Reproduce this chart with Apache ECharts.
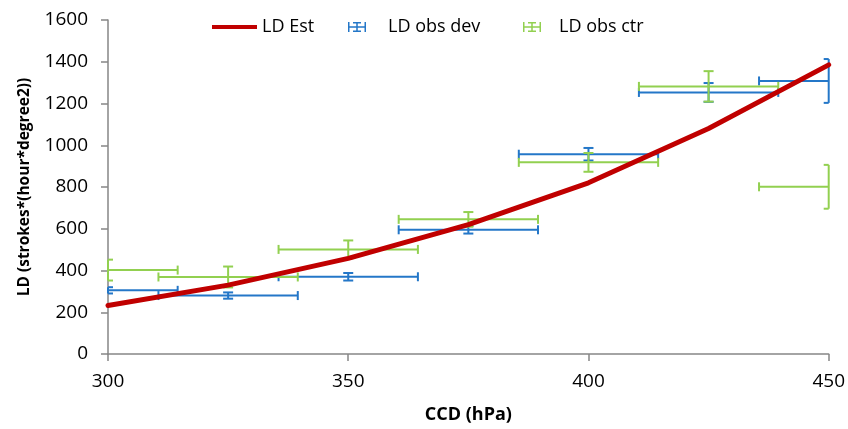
<!DOCTYPE html>
<html>
<head>
<meta charset="utf-8">
<script src="https://cdn.jsdelivr.net/npm/echarts@6/dist/echarts.min.js"></script>
<style>
html,body{margin:0;padding:0;background:#fff;}
#chart{width:848px;height:429px;}
</style>
</head>
<body>
<div id="chart"></div>
<script>
// ---- data ----
const ccd = [300, 325, 350, 375, 400, 425, 450];
const ldEst = [232, 330, 458, 620, 820, 1080, 1385];
const devY = [305, 280, 370, 595, 957, 1253, 1308];
const devYErr = [15, 15, 18, 18, 30, 45, 105];
const devXErr = [14.5, 14.5, 14.5, 14.5, 14.5, 14.5, 14.5];
const ctrY = [402, 369, 501, 645, 918, 1282, 801];
const ctrYErr = [50, 50, 43, 35, 45, 73, 105];
const ctrXErr = [14.5, 14.5, 14.5, 14.5, 14.5, 14.5, 14.5];
const xTicks = [300, 350, 400, 450];
const yTicks = [0, 200, 400, 600, 800, 1000, 1200, 1400, 1600];

const RED = '#c00000', BLUE = '#2477c8', GREEN = '#92d050';
const FONT = '"Open Sans", "Liberation Sans", sans-serif';
const errIcon = 'path://M0,0h1.5v10h-1.5z M16.5,0h1.5v10h-1.5z M0,4.25h18v1.5h-18z M8.25,0h1.5v10h-1.5z M5,0h8v1.5h-8z M5,8.5h8v1.5h-8z';

function errData(ys, ex, ey) {
  return ccd.map((x, i) => [x, ys[i], ex[i], ey[i]]);
}

function renderErr(color) {
  return function (params, api) {
    const x = api.value(0), y = api.value(1), ex = api.value(2), ey = api.value(3);
    const cs = params.coordSys;
    const left = cs.x, right = cs.x + cs.width;
    const c = api.coord([x, y]);
    let xl = api.coord([x - ex, y])[0], xr = api.coord([x + ex, y])[0];
    const yt = api.coord([x, y + ey])[1], yb = api.coord([x, y - ey])[1];
    const capL = xl >= left - 0.5, capR = xr <= right + 0.5;
    xl = Math.max(xl, left); xr = Math.min(xr, right);
    const h = 4.5, w = 5;
    const style = { stroke: color, lineWidth: 2, fill: null };
    const ch = [];
    const ln = (x1, y1, x2, y2) => ch.push({ type: 'line', shape: { x1, y1, x2, y2 }, style });
    ln(xl, c[1], xr, c[1]);
    if (capL) ln(xl, c[1] - h, xl, c[1] + h);
    if (capR) ln(xr, c[1] - h, xr, c[1] + h);
    ln(c[0], yt, c[0], yb);
    const cl = Math.max(c[0] - w, left), cr = Math.min(c[0] + w, right);
    ln(cl, yt, cr, yt);
    ln(cl, yb, cr, yb);
    return { type: 'group', children: ch };
  };
}

const chart = echarts.init(document.getElementById('chart'), null, { renderer: 'canvas' });
const legendText = { fontFamily: FONT, fontSize: 18, color: '#000' };
chart.setOption({
  animation: false,
  backgroundColor: '#fff',
  grid: { left: 108, right: 18, top: 20, bottom: 75 },
  legend: [
    { left: 212, top: 18, padding: 0, itemWidth: 45, itemHeight: 4,
      data: [{ name: 'LD Est', icon: 'path://M0,0h45v4h-45z' }],
      textStyle: legendText },
    { left: 348, top: 18, padding: 0, itemWidth: 18, itemHeight: 10,
      data: [{ name: 'LD obs dev', icon: errIcon }],
      textStyle: Object.assign({ padding: [0, 0, 0, 17] }, legendText) },
    { left: 523, top: 18, padding: 0, itemWidth: 18, itemHeight: 10,
      data: [{ name: 'LD obs ctr', icon: errIcon }],
      textStyle: Object.assign({ padding: [0, 0, 0, 13] }, legendText) }
  ],
  xAxis: {
    type: 'value', min: xTicks[0], max: xTicks[xTicks.length - 1], interval: 50,
    name: 'CCD (hPa)', nameLocation: 'middle', nameGap: 52,
    nameTextStyle: { fontFamily: FONT, fontSize: 18, fontWeight: 'bold', color: '#000' },
    axisLine: { lineStyle: { color: '#868686', width: 1.5 } },
    axisTick: { show: true, length: 7, lineStyle: { color: '#868686', width: 1.5 } },
    axisLabel: { fontFamily: FONT, fontSize: 19, color: '#000', margin: 18,
      formatter: v => String(v) },
    splitLine: { show: false }
  },
  yAxis: {
    type: 'value', min: yTicks[0], max: yTicks[yTicks.length - 1], interval: 200,
    name: 'LD (strokes*(hour*degree2))', nameLocation: 'middle', nameGap: 75,
    nameTextStyle: { fontFamily: FONT, fontSize: 15.5, fontWeight: 'bold', color: '#000' },
    axisLine: { show: true, lineStyle: { color: '#868686', width: 1.5 } },
    axisTick: { show: true, length: 7, lineStyle: { color: '#868686', width: 1.5 } },
    axisLabel: { fontFamily: FONT, fontSize: 19, color: '#000', margin: 20,
      formatter: v => String(v) },
    splitLine: { show: false }
  },
  series: [
    { name: 'LD obs dev', type: 'custom', itemStyle: { color: BLUE },
      renderItem: renderErr(BLUE), encode: { x: 0, y: 1 },
      data: errData(devY, devXErr, devYErr), z: 2 },
    { name: 'LD obs ctr', type: 'custom', itemStyle: { color: GREEN },
      renderItem: renderErr(GREEN), encode: { x: 0, y: 1 },
      data: errData(ctrY, ctrXErr, ctrYErr), z: 3 },
    { name: 'LD Est', type: 'line', showSymbol: false, symbol: 'none',
      data: ccd.map((x, i) => [x, ldEst[i]]),
      lineStyle: { color: RED, width: 5, cap: 'round', join: 'round' },
      itemStyle: { color: RED }, z: 4 }
  ]
});
</script>
</body>
</html>
